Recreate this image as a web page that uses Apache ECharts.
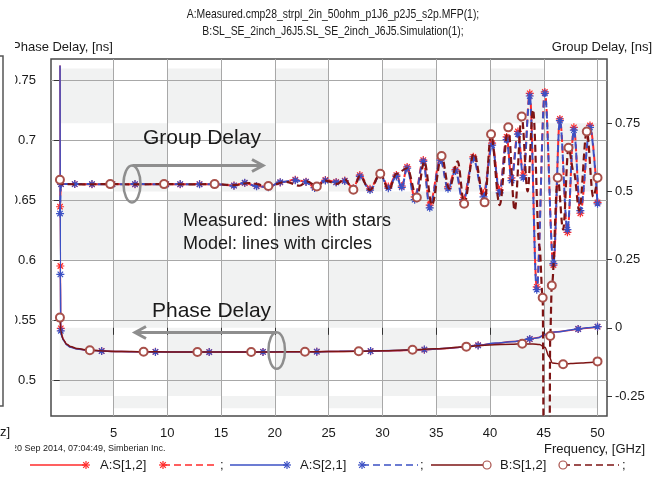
<!DOCTYPE html>
<html><head><meta charset="utf-8">
<script src="https://cdn.jsdelivr.net/npm/echarts@6/dist/echarts.min.js"></script>
<style>html,body{margin:0;padding:0;background:#fff}#c{width:657px;height:478px}</style>
</head><body><div id="c"></div>
<script>
// ---------------- data ----------------
const titleLines = ['A:Measured.cmp28_strpl_2in_50ohm_p1J6_p2J5_s2p.MFP(1);', 'B:SL_SE_2inch_J6J5.SL_SE_2inch_J6J5.Simulation(1);'];
const freqTicks = [5, 10, 15, 20, 25, 30, 35, 40, 45, 50];
const phaseTicks = [0.5, 0.55, 0.6, 0.65, 0.7, 0.75];
const groupTicks = [-0.25, 0, 0.25, 0.5, 0.75];
const legendNames = ['A:S[1,2]', 'A:S[2,1]', 'B:S[1,2]'];
// background checkerboard edges (GHz / group-delay ns)
const bandCols = [0, 5, 10, 15, 20, 25, 30, 35, 40, 45, 50];
const bandRows = [-0.295, -0.25, 0, 0.25, 0.5, 0.75, 0.951];

// Phase delay [ns] (left axis) : [GHz, ns]
const phaseA12 = [[0.03,0.762],[0.06,0.595],[0.1,0.543],[0.2,0.537],[0.4,0.533],[0.65,0.5295],[1.0,0.5275],[1.6,0.526],[2.5,0.525],[3.9,0.5242],[5,0.5238],[6.5,0.5236],[8.9,0.5235],[11,0.5234],[13.9,0.5233],[16,0.5233],[18.9,0.5234],[21,0.5235],[23.9,0.5236],[26,0.5238],[28.9,0.524],[31,0.5244],[33.9,0.5253],[36,0.5262],[38.9,0.529],[40.5,0.5305],[42,0.532],[43.7,0.534],[44.5,0.5355],[45,0.5372],[45.6,0.5395],[46.5,0.5405],[47.3,0.5412],[48.2,0.5425],[49,0.5432],[50,0.5444]];
const phaseA21 = [[0.03,0.762],[0.06,0.588],[0.1,0.541],[0.2,0.536],[0.4,0.5325],[0.65,0.5292],[1.0,0.5273],[1.6,0.5258],[2.5,0.5249],[3.9,0.5241],[5,0.5237],[6.5,0.5236],[8.9,0.5234],[11,0.5234],[13.9,0.5233],[16,0.5234],[18.9,0.5234],[21,0.5236],[23.9,0.5236],[26,0.5239],[28.9,0.5241],[31,0.5245],[33.9,0.5254],[36,0.5264],[38.9,0.5288],[40.5,0.5308],[42,0.5318],[43.7,0.5342],[44.5,0.5352],[45,0.5375],[45.6,0.5398],[46.5,0.5402],[47.3,0.5415],[48.2,0.5425],[49,0.5435],[50,0.5444]];
const phaseB12 = [[0.02,0.552],[0.1,0.541],[0.3,0.534],[0.65,0.5298],[1.0,0.528],[1.6,0.5262],[2.8,0.5248],[4,0.5242],[5.5,0.5238],[7.8,0.5235],[10,0.5234],[12.8,0.5233],[15,0.5233],[17.8,0.5234],[20,0.5234],[22.8,0.5235],[25,0.5237],[27.8,0.524],[30,0.5243],[32.8,0.5252],[35,0.526],[37.8,0.5278],[40,0.5292],[42,0.5298],[43,0.5302],[44,0.53],[44.6,0.5295],[45.1,0.5272],[45.5,0.5195],[45.8,0.5142],[46.8,0.5131],[47.5,0.5137],[48.5,0.5141],[49.3,0.5146],[50,0.5155]];

// Group delay [ns] (right axis) : [GHz, ns]
const groupA12 = [[0.03,0.444],[0.12,0.527],[1.4,0.527],[3,0.526],[4.9,0.527],[7,0.526],[9.9,0.527],[11.2,0.526],[13,0.527],[14.4,0.526],[16.2,0.522],[17.2,0.531],[18.3,0.52],[19.4,0.516],[20.5,0.533],[21.9,0.543],[22.9,0.536],[23.7,0.515],[24.7,0.542],[25.7,0.535],[26.5,0.54],[27.3,0.512],[27.9,0.56],[28.85,0.51],[29.8,0.567],[30.55,0.518],[31.3,0.56],[31.8,0.52],[32.3,0.59],[33.0,0.48],[33.8,0.615],[34.4,0.45],[35.4,0.62],[36.1,0.517],[36.8,0.58],[37.5,0.47],[38.45,0.627],[39.4,0.493],[40.2,0.677],[40.9,0.505],[41.55,0.70],[42.0,0.55],[42.6,0.72],[43.1,0.56],[43.7,0.86],[44.35,0.15],[45.1,0.865],[45.9,0.23],[46.5,0.766],[47.2,0.35],[47.8,0.735],[48.4,0.42],[49.3,0.742],[50,0.46]];
const groupA21 = [[0.03,0.419],[0.12,0.527],[1.4,0.527],[3,0.527],[4.9,0.526],[7,0.527],[9.9,0.526],[11.2,0.527],[13,0.526],[14.4,0.527],[16.2,0.521],[17.2,0.532],[18.3,0.519],[19.4,0.515],[20.5,0.534],[21.9,0.541],[22.9,0.535],[23.7,0.513],[24.7,0.54],[25.7,0.533],[26.5,0.538],[27.3,0.51],[27.9,0.555],[28.85,0.505],[29.8,0.562],[30.55,0.512],[31.3,0.555],[31.8,0.515],[32.3,0.585],[33.0,0.47],[33.8,0.61],[34.4,0.44],[35.4,0.615],[36.1,0.51],[36.8,0.575],[37.5,0.46],[38.45,0.62],[39.4,0.48],[40.2,0.67],[40.9,0.495],[41.55,0.69],[42.0,0.54],[42.6,0.71],[43.1,0.55],[43.7,0.85],[44.35,0.14],[45.1,0.86],[45.9,0.235],[46.5,0.76],[47.2,0.36],[47.8,0.725],[48.4,0.43],[49.3,0.735],[50,0.455]];
const groupB12 = [[0.02,0.543],[0.12,0.527],[2,0.526],[4.7,0.527],[7,0.526],[9.7,0.527],[12,0.526],[14.4,0.527],[16.2,0.523],[17.6,0.531],[19.4,0.52],[21.0,0.535],[22.3,0.521],[23.0,0.537],[23.9,0.518],[24.7,0.54],[25.8,0.528],[26.5,0.545],[27.3,0.506],[27.9,0.556],[28.85,0.505],[29.8,0.565],[30.6,0.505],[31.3,0.565],[32.3,0.585],[33.2,0.478],[33.9,0.61],[34.6,0.45],[35.5,0.63],[36.2,0.51],[37.0,0.61],[37.6,0.455],[38.5,0.64],[39.5,0.46],[40.1,0.71],[40.9,0.45],[41.7,0.735],[42.3,0.43],[42.95,0.775],[43.5,0.5],[44.0,0.8],[44.6,0.3],[44.9,0.11],[45.05,-0.9],[45.5,-0.9],[45.6,-0.03],[45.75,0.155],[46.3,0.55],[46.8,0.36],[47.3,0.66],[47.8,0.57],[48.3,0.43],[49.0,0.72],[49.6,0.48],[50,0.55]];

// frequencies where markers are drawn
const phaseStarF = [0.06, 0.1, 3.9, 8.9, 13.9, 18.9, 23.9, 28.9, 33.9, 38.9, 43.7, 48.2, 50];
const phaseCircleF = [0.02, 2.8, 7.8, 12.8, 17.8, 22.8, 27.8, 32.8, 37.8, 43, 46.8, 50];
const groupCircleF = [0.02, 4.7, 9.7, 14.4, 19.4, 23.9, 27.3, 29.8, 33.2, 35.5, 37.6, 39.5, 40.1, 41.7, 42.95, 44.9, 45.6, 45.75, 46.3, 47.3, 49.0, 50];

// ---------------- chart ----------------
const RED = '#ff2b2b', BLUE = '#3b50c4', DRED = '#7d1414', CIRC = '#a8504a', GRAY = '#8e8e8e', FONT = 'Liberation Sans, Arial, sans-serif';
const STAR = 'path://M5,0L5,10M0,5L10,5M1.6,1.6L8.4,8.4M8.4,1.6L1.6,8.4';
function sizeBy(list, size) { const s = new Set(list); return v => s.has(v[0]) ? size : 0; }

const cells = [];
for (let c = 0; c < bandCols.length - 1; c++) {
  for (let r = 0; r < bandRows.length - 1; r++) {
    const rowFromTop = bandRows.length - 2 - r;
    if ((c + rowFromTop) % 2 === 0) cells.push([bandCols[c], bandCols[c + 1], bandRows[r], bandRows[r + 1]]);
  }
}

function lineSeries(name, data, yIdx, color, dashed, width, symbol, symColor, sizeFn, z) {
  return {
    name, type: 'line', data, yAxisIndex: yIdx, z,
    smooth: 0.35, smoothMonotone: 'x', showAllSymbol: true,
    symbol, symbolSize: sizeFn,
    lineStyle: { color, width, type: dashed ? [7, 4] : 'solid' },
    itemStyle: { color: symColor, borderColor: symColor, borderWidth: 1.2 },
    emphasis: { disabled: true }, silent: true, clip: true
  };
}

const series = [
  {
    type: 'custom', yAxisIndex: 1, z: -5, silent: true, data: cells,
    encode: { x: [0, 1], y: [2, 3] },
    renderItem: (params, api) => {
      const p0 = api.coord([api.value(0), api.value(3)]);
      const p1 = api.coord([api.value(1), api.value(2)]);
      return { type: 'rect', shape: { x: p0[0], y: p0[1], width: p1[0] - p0[0], height: p1[1] - p0[1] }, style: { fill: '#f1f2f2' } };
    }
  },
  lineSeries('A:S[1,2]', phaseA12, 0, RED, false, 1.5, STAR, RED, sizeBy(phaseStarF, 8), 3),
  lineSeries('A:S[2,1]', phaseA21, 0, BLUE, false, 1.5, STAR, BLUE, sizeBy(phaseStarF, 8), 4),
  lineSeries('B:S[1,2]', phaseB12, 0, DRED, false, 1.5, 'emptyCircle', CIRC, sizeBy(phaseCircleF, 8), 5),
  lineSeries('A:S[1,2] GD', groupA12, 1, RED, true, 2, STAR, RED, () => 8, 3),
  lineSeries('A:S[2,1] GD', groupA21, 1, BLUE, true, 2, STAR, BLUE, () => 8, 4),
  lineSeries('B:S[1,2] GD', groupB12, 1, DRED, true, 2.2, 'emptyCircle', CIRC, sizeBy(groupCircleF, 8), 5)
];

// ---------- graphic: texts, annotations, legend ----------
const g = [];
function txt(text, x, y, size, align, z, sx) {
  g.push({ type: 'text', x, y, z: z || 100, scaleX: sx || 1, style: { text, fill: '#1a1a1a', font: size + 'px ' + FONT, textAlign: align || 'left', textVerticalAlign: 'middle' } });
}
function line(pts, color, width, dash, z) {
  g.push({ type: 'polyline', z: z || 100, shape: { points: pts }, style: { stroke: color, lineWidth: width, fill: null, lineDash: dash || null } });
}
function starG(cx, cy, color) {
  const r = 4;
  line([[cx - r, cy], [cx + r, cy]], color, 1.2);
  line([[cx, cy - r], [cx, cy + r]], color, 1.2);
  line([[cx - r * 0.7, cy - r * 0.7], [cx + r * 0.7, cy + r * 0.7]], color, 1.2);
  line([[cx + r * 0.7, cy - r * 0.7], [cx - r * 0.7, cy + r * 0.7]], color, 1.2);
}
function circleG(cx, cy, color) {
  g.push({ type: 'circle', z: 101, shape: { cx, cy, r: 4 }, style: { stroke: color, lineWidth: 1.2, fill: '#fff' } });
}
// left strip: cut-off edge of a neighbouring panel
txt('Phase Delay, [ns]', 12, 47, 13, 'left', 98);
txt('20 Sep 2014, 07:04:49, Simberian Inc.', 12, 449, 9, 'left', 98);
g.push({ type: 'rect', z: 150, shape: { x: 0, y: 36, width: 15, height: 420 }, style: { fill: '#fff' } });
line([[0, 56], [3, 56], [3, 406], [0, 406]], '#555', 1.5, null, 151);
txt('z]', 0, 432, 13, 'left', 151);

txt(titleLines[0], 333, 14, 13, 'center', 100, 0.8);
txt(titleLines[1], 333, 31, 13, 'center', 100, 0.8);
txt('Group Delay, [ns]', 652, 47, 13, 'right');
txt('Frequency, [GHz]', 645, 449, 13, 'right');

// annotations
txt('Group Delay', 143, 138, 21);
line([[132.5, 165.5], [263, 165.5]], GRAY, 3);
line([[252, 159.5], [263, 165.5], [252, 171.5]], GRAY, 3);
g.push({ type: 'ellipse', z: 100, shape: { cx: 132, cy: 184, rx: 8.5, ry: 18.5 }, style: { stroke: GRAY, lineWidth: 2.5, fill: null } });
txt('Measured: lines with stars', 183, 221, 18);
txt('Model: lines with circles', 183, 244, 18);
txt('Phase Delay', 152, 311, 21);
line([[276.5, 332.5], [135, 332.5]], GRAY, 3);
line([[146, 326.5], [135, 332.5], [146, 338.5]], GRAY, 3);
g.push({ type: 'ellipse', z: 100, shape: { cx: 276.7, cy: 350.5, rx: 8.3, ry: 18.3 }, style: { stroke: GRAY, lineWidth: 2.5, fill: null } });

// legend
const LY = 465;
line([[30, LY], [86, LY]], RED, 1.5); starG(86, LY, RED);
txt(legendNames[0], 100, LY, 13);
line([[163, LY], [218, LY]], RED, 1.5, [7, 4]); starG(163, LY, RED);
txt(';', 220, LY, 13);
line([[230, LY], [287, LY]], BLUE, 1.5); starG(287, LY, BLUE);
txt(legendNames[1], 300, LY, 13);
line([[362, LY], [418, LY]], BLUE, 1.5, [7, 4]); starG(362, LY, BLUE);
txt(';', 420, LY, 13);
line([[431, LY], [487, LY]], DRED, 1.5); circleG(487, LY, CIRC);
txt(legendNames[2], 500, LY, 13);
line([[563, LY], [619, LY]], DRED, 1.5, [7, 4]); circleG(563, LY, CIRC);
txt(';', 622, LY, 13);

const axisLabelStyle = { color: '#1a1a1a', fontSize: 13, fontFamily: FONT };
const option = {
  animation: false,
  backgroundColor: '#fff',
  grid: { left: 51, right: 50, top: 59, bottom: 62, show: true, borderColor: '#4a4a4a', borderWidth: 1.5, backgroundColor: 'transparent' },
  xAxis: {
    type: 'value', min: -0.81, max: 50.88,
    axisLine: { show: false },
    axisTick: { show: true, length: 7, customValues: freqTicks, lineStyle: { color: '#333' } },
    axisLabel: Object.assign({ customValues: freqTicks, margin: 11 }, axisLabelStyle),
    splitLine: { show: true, lineStyle: { color: '#a8a8a8', width: 1 } }
  },
  yAxis: [
    {
      type: 'value', position: 'left', min: 0.47, max: 0.7675,
      axisLine: { show: false },
      axisTick: { show: true, length: 6, customValues: phaseTicks, lineStyle: { color: '#333' } },
      axisLabel: Object.assign({ customValues: phaseTicks, margin: 15 }, axisLabelStyle),
      splitLine: { show: true, lineStyle: { color: '#a8a8a8', width: 1 } }
    },
    {
      type: 'value', position: 'right', min: -0.3234, max: 0.9857,
      axisLine: { show: false },
      axisTick: { show: true, length: 5, customValues: groupTicks, lineStyle: { color: '#333' } },
      axisLabel: Object.assign({ customValues: groupTicks, margin: 8 }, axisLabelStyle),
      splitLine: { show: false }
    }
  ],
  series,
  graphic: { elements: g }
};
const chart = echarts.init(document.getElementById('c'));
chart.setOption(option);
</script>
</body></html>
